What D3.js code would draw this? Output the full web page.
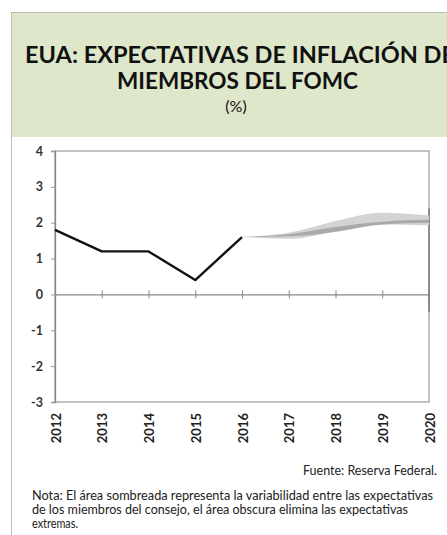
<!DOCTYPE html>
<html>
<head>
<meta charset="utf-8">
<script src="https://cdn.jsdelivr.net/npm/d3@7"></script>
<style>
  body { margin: 0; background: #fff; }
  svg { display: block; font-family: Lato, "Open Sans", sans-serif; }
</style>
</head>
<body>
<div class="chart"></div>
<script>
const years = [2012, 2013, 2014, 2015, 2016, 2017, 2018, 2019, 2020];
const actualYears = [2012, 2013, 2014, 2015, 2016];
const actualValues = [1.8, 1.2, 1.2, 0.4, 1.6];
const forecastYears = [2016, 2017, 2018, 2019, 2020];
const rangeHigh = [1.6, 1.72, 2.05, 2.28, 2.2];
const rangeLow = [1.6, 1.55, 1.75, 1.95, 1.92];
const centralHigh = [1.6, 1.68, 1.88, 2.03, 2.08];
const centralLow = [1.6, 1.62, 1.75, 1.95, 2.0];
const yTicks = [4, 3, 2, 1, 0, -1, -2, -3];
const titleLines = ["EUA: EXPECTATIVAS DE INFLACIÓN DE", "MIEMBROS DEL FOMC"];
const unitLabel = "(%)";
const source = "Fuente: Reserva Federal.";
const noteLines = [
  "Nota: El área sombreada representa la variabilidad entre las expectativas",
  "de los miembros del consejo, el área obscura elimina las expectativas",
  "extremas."
];

const width = 447, height = 535;
const margin = { top: 151, right: 18, bottom: 133, left: 55 };

const svg = d3.select(".chart").append("svg")
  .attr("width", width)
  .attr("height", height);

// header band
svg.append("rect")
  .attr("x", 11).attr("y", 12)
  .attr("width", width - 11).attr("height", 125)
  .attr("fill", "#dfe7ca");
svg.append("line")
  .attr("x1", 11).attr("x2", width).attr("y1", 12.5).attr("y2", 12.5)
  .attr("stroke", "#b9c0ad");
svg.append("line")
  .attr("x1", 11.5).attr("x2", 11.5).attr("y1", 12).attr("y2", height)
  .attr("stroke", "#bdbdbd");

// title
svg.append("text")
  .attr("x", 240).attr("y", 63)
  .attr("text-anchor", "middle")
  .attr("font-size", 22).attr("font-weight", "bold")
  .attr("textLength", 430).attr("lengthAdjust", "spacingAndGlyphs")
  .attr("fill", "#111")
  .text(titleLines[0]);
svg.append("text")
  .attr("x", 237.5).attr("y", 89)
  .attr("text-anchor", "middle")
  .attr("font-size", 22).attr("font-weight", "bold")
  .attr("textLength", 241).attr("lengthAdjust", "spacingAndGlyphs")
  .attr("fill", "#111")
  .text(titleLines[1]);
svg.append("text")
  .attr("x", 236).attr("y", 112)
  .attr("text-anchor", "middle")
  .attr("font-size", 16)
  .attr("fill", "#111")
  .text(unitLabel);

//scales
const x = d3.scaleLinear()
  .domain([2012, 2020])
  .range([margin.left, width - margin.right]);

const y = d3.scaleLinear()
  .domain([-3, 4])
  .range([height - margin.bottom, margin.top]);

// frame
svg.append("rect")
  .attr("x", x(2012)).attr("y", y(4))
  .attr("width", x(2020) - x(2012)).attr("height", y(-3) - y(4))
  .attr("fill", "none")
  .attr("stroke", "#9a9a9a")
  .attr("stroke-width", 1.2);

// y axis
svg.append("g")
  .attr("transform", `translate(${x(2012)},0)`)
  .call(d3.axisLeft(y).tickValues(yTicks).tickSize(4).tickPadding(8).tickFormat(d => String(d)))
  .call(g => g.select(".domain").attr("stroke", "#888").attr("stroke-width", 1.3))
  .call(g => g.selectAll(".tick line").attr("stroke", "#999"))
  .call(g => g.selectAll(".tick text")
    .attr("font-family", "Lato, sans-serif")
    .attr("font-size", 12.5).attr("font-weight", "bold").attr("fill", "#333"));

// zero line with crossing ticks
svg.append("g")
  .attr("transform", `translate(0,${y(0)})`)
  .call(d3.axisBottom(x).tickValues(years).tickSize(0).tickFormat(""))
  .call(g => g.select(".domain").attr("stroke", "#888").attr("stroke-width", 1.2))
  .call(g => g.selectAll(".tick line").attr("y1", -4).attr("y2", 4).attr("stroke", "#888"));

// darker segment on right edge
svg.append("line")
  .attr("x1", x(2020)).attr("x2", x(2020))
  .attr("y1", y(2.4)).attr("y2", y(-0.5))
  .attr("stroke", "#7a7a7a").attr("stroke-width", 1.5);

// x labels below plot
svg.append("g")
  .selectAll("text")
  .data(years)
  .join("text")
  .attr("transform", d => `translate(${x(d) + 1},${y(-3) + 11}) rotate(-90)`)
  .attr("text-anchor", "end")
  .attr("dy", "0.36em")
  .attr("font-size", 13).attr("font-weight", "bold").attr("fill", "#222")
  .text(d => d);

// forecast bands
const idx = d3.range(forecastYears.length);
const band = (hi, lo) => d3.area()
  .x(i => x(forecastYears[i]))
  .y0(i => y(lo[i]))
  .y1(i => y(hi[i]))
  .curve(d3.curveMonotoneX);

svg.append("path")
  .datum(idx)
  .attr("fill", "#d3d3d3")
  .attr("d", band(rangeHigh, rangeLow));

svg.append("path")
  .datum(idx)
  .attr("fill", "#a9a9a9")
  .attr("d", band(centralHigh, centralLow));

// actual line
const line = d3.line()
  .x((d, i) => x(actualYears[i]))
  .y(d => y(d));

svg.append("path")
  .datum(actualValues)
  .attr("fill", "none")
  .attr("stroke", "#111")
  .attr("stroke-width", 2.4)
  .attr("stroke-linejoin", "round")
  .attr("d", line);

// source
svg.append("text")
  .attr("x", 437).attr("y", 475)
  .attr("text-anchor", "end")
  .attr("font-size", 12.5).attr("fill", "#222")
  .attr("textLength", 134).attr("lengthAdjust", "spacingAndGlyphs")
  .text(source);

// note
const noteWidths = [401, 376, 46];
svg.append("g")
  .selectAll("text")
  .data(noteLines)
  .join("text")
  .attr("x", 32)
  .attr("y", (d, i) => 500 + i * 14)
  .attr("font-size", 12.5).attr("fill", "#222")
  .attr("textLength", (d, i) => noteWidths[i])
  .attr("lengthAdjust", "spacingAndGlyphs")
  .text(d => d);
</script>
</body>
</html>
